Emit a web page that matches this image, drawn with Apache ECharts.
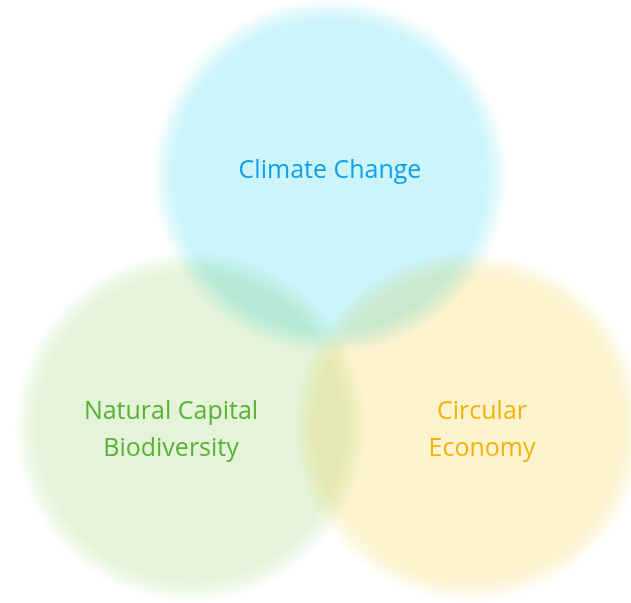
<!DOCTYPE html>
<html>
<head>
<meta charset="utf-8">
<script src="https://cdn.jsdelivr.net/npm/echarts@6/dist/echarts.min.js"></script>
<style>
  html, body { margin: 0; padding: 0; background: #fff; }
  #chart { width: 631px; height: 603px; }
</style>
</head>
<body>
<div id="chart"></div>
<script>
// three sets of the venn diagram
const setNames = ['Climate Change', 'Natural Capital\nBiodiversity', 'Circular\nEconomy'];
const centerX = [330, 190, 470];
const centerY = [176, 427, 427];
const radius = [178, 176, 176];
const labelX = [330, 171, 482];
const labelY = [171, 430, 430];

const fillColors = ['#cbf4fb', '#e5f4d9', '#fdf3cf'];
const textColors = ['#10a1e8', '#58b236', '#f7b20a'];

const chart = echarts.init(document.getElementById('chart'));

function withAlpha(hex, a) {
  const r = parseInt(hex.slice(1, 3), 16);
  const g = parseInt(hex.slice(3, 5), 16);
  const b = parseInt(hex.slice(5, 7), 16);
  return `rgba(${r},${g},${b},${a})`;
}

const option = {
  backgroundColor: '#fff',
  animation: false,
  grid: {left: 0, right: 0, top: 0, bottom: 0},
  xAxis: {type: 'value', min: 0, max: 631, show: false},
  yAxis: {type: 'value', min: 0, max: 603, inverse: true, show: false},
  series: [
    {
      type: 'custom',
      coordinateSystem: 'cartesian2d',
      data: setNames.map((name, i) => [centerX[i], centerY[i], radius[i], labelX[i], labelY[i], name]),
      renderItem: function (params, api) {
        const i = params.dataIndex;
        const c = api.coord([api.value(0), api.value(1)]);
        const r = api.size([api.value(2), api.value(2)])[0];
        const t = api.coord([api.value(3), api.value(4)]);
        const col = fillColors[i];
        return {
          type: 'group',
          children: [
            {
              type: 'circle',
              shape: {cx: c[0], cy: c[1], r: r},
              style: {
                fill: new echarts.graphic.RadialGradient(0.5, 0.5, 0.5, [
                  {offset: 0, color: col},
                  {offset: 0.87, color: col},
                  {offset: 0.93, color: withAlpha(col, 0.6)},
                  {offset: 1, color: withAlpha(col, 0)}
                ]),
                blend: 'multiply'
              },
              z2: 1
            },
            {
              type: 'text',
              x: t[0],
              y: t[1],
              style: {
                text: api.value(5),
                fill: textColors[i],
                font: '25px "Open Sans", Lato, sans-serif',
                lineHeight: 37,
                align: 'center',
                verticalAlign: 'middle'
              },
              z2: 10
            }
          ]
        };
      }
    }
  ]
};
chart.setOption(option);

// overlapping circles multiply like in the original
const zr = chart.getZr();
zr.storage.getDisplayList(true).forEach(el => {
  if (el.type === 'circle') {
    el.style.blend = 'multiply';
    el.markRedraw();
  }
});
zr.refreshImmediately();

window.addEventListener('resize', () => {
  chart.resize();
});
</script>
</body>
</html>
